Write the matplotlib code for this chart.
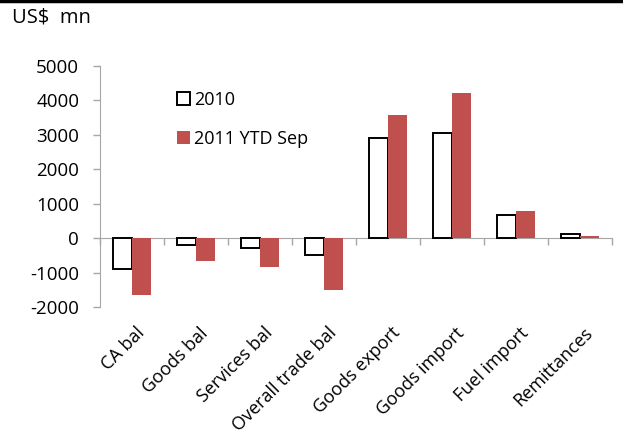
import matplotlib
matplotlib.use("Agg")
import matplotlib.pyplot as plt
import numpy as np
from matplotlib.lines import Line2D
from matplotlib.patches import Patch

plt.rcParams["font.family"] = ["Open Sans", "DejaVu Sans"]

categories = ["CA bal", "Goods bal", "Services bal", "Overall trade bal",
              "Goods export", "Goods import", "Fuel import", "Remittances"]
vals_2010 = [-900, -200, -300, -500, 2900, 3060, 680, 120]
vals_2011 = [-1650, -670, -850, -1500, 3580, 4220, 780, 50]
series_names = ["2010", "2011 YTD Sep"]
yticks = [-2000, -1000, 0, 1000, 2000, 3000, 4000, 5000]

RED = "#C0504D"
GREY = "#A6A6A6"
FS = 13

fig = plt.figure(figsize=(6.23, 4.43), dpi=100)
ax = fig.add_axes([100 / 623, 1 - 307 / 443, 512 / 623, 241 / 443])

x = np.arange(len(categories))
w = 0.295
ax.bar(x - w / 2, vals_2010, w, facecolor="white", edgecolor="black",
       linewidth=1.4, zorder=3)
ax.bar(x + w / 2, vals_2011, w, color=RED, zorder=3)

ax.set_xlim(-0.5, len(categories) - 0.5)
ax.set_ylim(-2000, 5000)
ax.set_yticks(yticks)
ax.set_yticklabels([str(v) for v in yticks], fontsize=13.5)

# x axis sits on zero, ticks between categories
ax.spines["bottom"].set_position(("data", 0))
ax.spines["bottom"].set_color(GREY)
ax.spines["left"].set_color(GREY)
ax.spines["top"].set_visible(False)
ax.spines["right"].set_visible(False)
ax.set_xticks(np.arange(len(categories) + 1) - 0.5)
ax.set_xticklabels([])
ax.tick_params(axis="x", direction="out", length=5, color=GREY, width=1)
ax.tick_params(axis="y", direction="out", length=5, color=GREY, width=1, pad=10)

for xi, name in zip(x, categories):
    ax.text(xi + 0.05, -0.07, name, transform=ax.get_xaxis_transform(),
            rotation=45, rotation_mode="anchor", ha="right", va="top",
            fontsize=FS)

handles = [Patch(facecolor="white", edgecolor="black", linewidth=1.4),
           Patch(facecolor=RED)]
ax.legend(handles, series_names, loc="upper left",
          bbox_to_anchor=(0.15, 0.897), frameon=False, fontsize=FS,
          borderpad=0, borderaxespad=0,
          labelspacing=1.15, handlelength=0.75, handleheight=0.75,
          handletextpad=0.2)

fig.text(12 / 623, 1 - 18 / 443, "US$  mn", fontsize=14.5, va="center")
fig.add_artist(Line2D([0, 1], [0.998, 0.998], color="black", linewidth=2.5,
                      transform=fig.transFigure))

fig.savefig("out.png", dpi=100)
